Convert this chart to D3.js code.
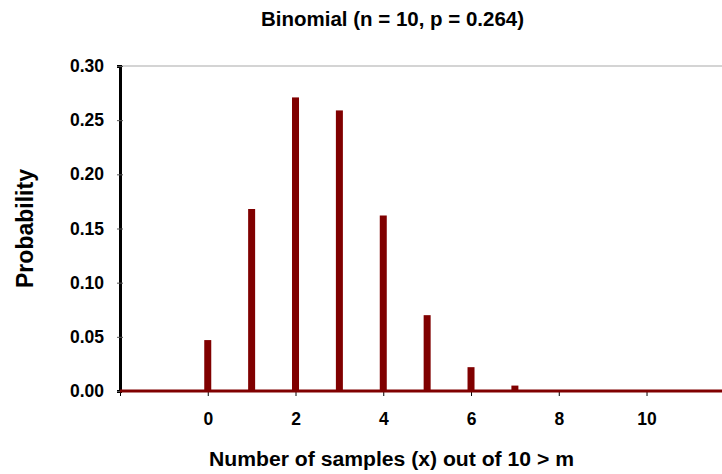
<!DOCTYPE html>
<html lang="en">
<head>
  <meta charset="UTF-8"/>
  <title>Binomial distribution</title>
  <script src="https://d3js.org/d3.v7.min.js"></script>
</head>
<body>
  <svg></svg>
<style>
body {
  margin: 0;
  background: #fff;
  font-family: 'Liberation Sans', Arial, sans-serif;
}
svg {
  width: 722px;
  height: 474px;
  display: block;
}
text {
  font-weight: bold;
  fill: #000;
}
.axis text {
  font-size: 17.5px;
}
.bar {
  fill: #800000;
}
</style>
<script>
    // values
    const successes = [0, 1, 2, 3, 4, 5, 6, 7, 8, 9, 10];
    const probabilities = [0.047, 0.168, 0.271, 0.259, 0.162, 0.070, 0.022, 0.005, 0, 0, 0];
    const xTicks = [-2, 0, 2, 4, 6, 8, 10];
    const yTicks = [0, 0.05, 0.10, 0.15, 0.20, 0.25, 0.30];

    const plotLeft = 120, plotRight = 722, plotTop = 66, plotBottom = 391;

    const svg = d3.select('svg');

    const x = d3.scaleLinear().domain([-2, 11.72]).range([plotLeft, plotRight]);
    const y = d3.scaleLinear().domain([0, 0.30]).range([plotBottom, plotTop]);

    // light frame line on top
    svg.append('line')
      .attr('x1', plotLeft).attr('x2', plotRight)
      .attr('y1', plotTop).attr('y2', plotTop)
      .attr('stroke', '#aaa').attr('stroke-width', 1.2);

    // y axis
    const yAxis = svg.append('g')
      .attr('class', 'axis')
      .attr('transform', `translate(${plotLeft},0)`)
      .call(d3.axisLeft(y).tickValues(yTicks).tickFormat(d3.format('.2f')).tickSize(3).tickPadding(13));
    yAxis.attr('font-family', null).attr('font-size', null);
    yAxis.select('.domain').attr('stroke', '#000').attr('stroke-width', 3);
    yAxis.selectAll('.tick line').attr('x2', 3).attr('x1', -3).attr('stroke', '#555');

    // x axis
    const xAxis = svg.append('g')
      .attr('class', 'axis')
      .attr('transform', `translate(0,${plotBottom})`)
      .call(d3.axisBottom(x).tickValues(xTicks).tickFormat(d => d < 0 ? '' : d).tickSize(5).tickPadding(17));
    xAxis.attr('font-family', null).attr('font-size', null);
    xAxis.select('.domain').remove();
    xAxis.selectAll('.tick line').attr('stroke', '#000');

    // bars
    const barW = 7;
    svg.append('g').selectAll('rect')
      .data(successes)
      .join('rect')
      .attr('class', 'bar')
      .attr('x', (d) => x(d) - barW / 2)
      .attr('width', barW)
      .attr('y', (d, i) => y(probabilities[i]))
      .attr('height', (d, i) => y(0) - y(probabilities[i]));

    // baseline
    svg.append('line')
      .attr('x1', x(-2)).attr('x2', plotRight)
      .attr('y1', y(0)).attr('y2', y(0))
      .attr('stroke', '#800000').attr('stroke-width', 3);

    // titles
    svg.append('text')
      .attr('x', 261).attr('y', 26)
      .attr('textLength', 263).attr('lengthAdjust', 'spacingAndGlyphs')
      .style('font-size', '19.5px')
      .text('Binomial (n = 10, p = 0.264)');

    svg.append('text')
      .attr('transform', 'translate(33,288) rotate(-90)')
      .attr('textLength', 119).attr('lengthAdjust', 'spacingAndGlyphs')
      .style('font-size', '24px')
      .text('Probability');

    svg.append('text')
      .attr('x', 209).attr('y', 466)
      .attr('textLength', 365).attr('lengthAdjust', 'spacingAndGlyphs')
      .style('font-size', '19.5px')
      .text('Number of samples (x) out of 10 > m');
</script>
</body>
</html>
